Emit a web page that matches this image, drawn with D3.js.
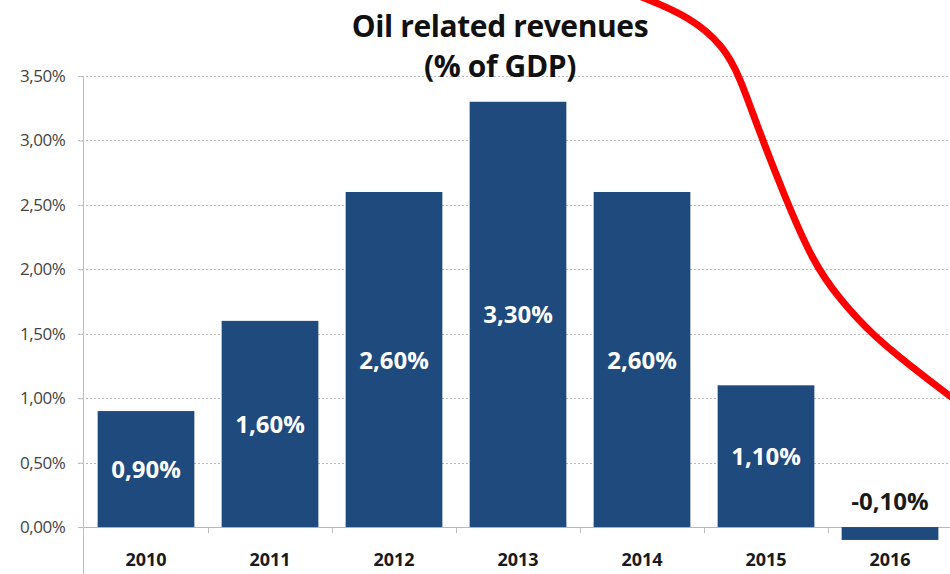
<!DOCTYPE html>
<html>
<head>
<meta charset="utf-8">
<script src="https://cdn.jsdelivr.net/npm/d3@7"></script>
<style>
body{margin:0;background:#fff;}
svg{display:block;}
</style>
</head>
<body>
<script>
var width=950,height=574;

var years=["2010","2011","2012","2013","2014","2015","2016"];
var values=[0.9,1.6,2.6,3.3,2.6,1.1,-0.1];
var yTicks=[0,0.5,1,1.5,2,2.5,3,3.5];
var titleLines=["Oil related revenues","(% of GDP)"];
// hand drawn red stroke, in data units (year, %)
var redX=[2013.98,2014.39,2014.66,2014.79,2014.93,2015.14,2015.38,2015.60,2015.87,2016.14,2016.49,2016.70];
var redY=[4.12,3.96,3.73,3.49,3.11,2.59,2.05,1.76,1.48,1.27,1.01,0.86];

var font="'Open Sans', Lato, sans-serif";
var fmt=function(v){return d3.format(".2f")(v).replace(".",",").replace("\u2212","-")+"%";};

var svg=d3.select("body").append("svg").attr("width",width).attr("height",height);

var x=d3.scaleBand().domain(years).range([84,952]).paddingInner(0.22).paddingOuter(0.11);
var y=d3.scaleLinear().domain([-0.5,3.5]).range([591.5,76]);
var xYear=d3.scaleLinear().domain([2010,2011]).range([x("2010")+x.bandwidth()/2,x("2011")+x.bandwidth()/2]);

// grid
svg.append("g").selectAll("line").data(yTicks).enter().append("line")
   .attr("x1",78).attr("x2",width)
   .attr("y1",function(d){return Math.round(y(d))+0.5;})
   .attr("y2",function(d){return Math.round(y(d))+0.5;})
   .attr("stroke","#b8b8b8").attr("stroke-width",1)
   .attr("stroke-dasharray",function(d){return d==0?null:"2,2";});

// y axis
var yAxis=d3.axisLeft(y).tickValues(yTicks).tickFormat(fmt).tickSize(5).tickPadding(13);
var ga=svg.append("g").attr("transform","translate(83.5,0)").call(yAxis);
ga.select(".domain").attr("stroke","#bdbdbd").attr("d","M0,76V574");
ga.selectAll(".tick line").attr("stroke","#bdbdbd");
ga.selectAll("text").attr("fill","#444").style("font-family",font).style("font-size","17px").style("letter-spacing","-0.4px");

// category ticks on zero line
svg.append("g").selectAll("line").data(years).enter().append("line")
   .attr("x1",function(d){return Math.round(x(d)+x.bandwidth()+x.step()*x.paddingInner()/2)+0.5;})
   .attr("x2",function(d){return Math.round(x(d)+x.bandwidth()+x.step()*x.paddingInner()/2)+0.5;})
   .attr("y1",y(0)).attr("y2",y(0)+6)
   .attr("stroke","#bdbdbd");

// bars
svg.append("g").selectAll("rect").data(values).enter().append("rect")
   .attr("x",function(d,i){return x(years[i]);})
   .attr("width",x.bandwidth())
   .attr("y",function(d){return y(Math.max(0,d));})
   .attr("height",function(d){return Math.abs(y(d)-y(0));})
   .attr("fill","#1f4a7e");

// value labels
svg.append("g").selectAll("text").data(values).enter().append("text")
   .attr("x",function(d,i){return x(years[i])+x.bandwidth()/2;})
   .attr("y",function(d){return d>0?(y(d)+y(0))/2+9:y(0)-17;})
   .attr("text-anchor","middle")
   .attr("fill",function(d){return d>0?"#fff":"#1a1a1a";})
   .style("font-family",font).style("font-weight","bold").style("font-size","24px")
   .text(fmt);

// category labels
svg.append("g").selectAll("text").data(years).enter().append("text")
   .attr("x",function(d){return x(d)+x.bandwidth()/2;})
   .attr("y",566)
   .attr("text-anchor","middle").attr("fill","#1a1a1a")
   .style("font-family",font).style("font-weight","bold").style("font-size","18px")
   .text(function(d){return d;});

// title
svg.append("g").selectAll("text").data(titleLines).enter().append("text")
   .attr("x",500).attr("y",function(d,i){return 37+i*40;})
   .attr("text-anchor","middle").attr("fill","#111")
   .style("font-family",font).style("font-weight","bold").style("font-size","30px")
   .style("letter-spacing","-0.4px")
   .text(function(d){return d;});

// red annotation stroke
var line=d3.line().curve(d3.curveBasis)
   .x(function(d){return xYear(d[0]);}).y(function(d){return y(d[1]);});
svg.append("path").datum(d3.zip(redX,redY))
   .attr("d",line).attr("fill","none").attr("stroke","#ff0000").attr("stroke-width",7).attr("stroke-linecap","round");
</script>
</body>
</html>
